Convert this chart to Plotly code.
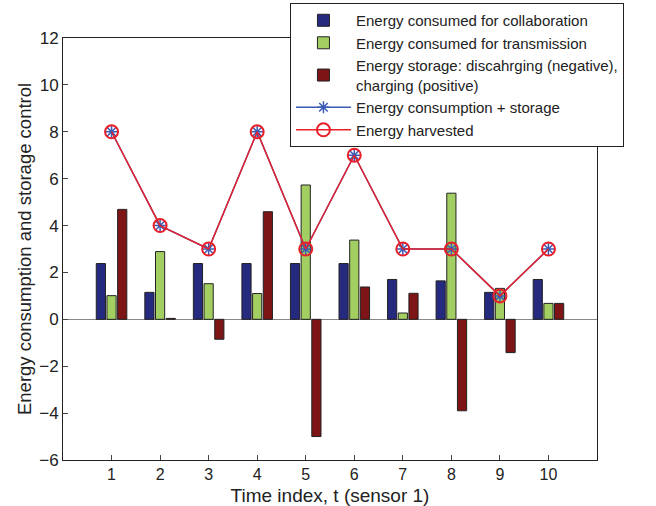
import plotly.graph_objects as go

t = [1, 2, 3, 4, 5, 6, 7, 8, 9, 10]
collab = [2.38, 1.15, 2.38, 2.38, 2.38, 2.38, 1.70, 1.64, 1.15, 1.70]
transm = [1.01, 2.89, 1.52, 1.10, 5.73, 3.38, 0.27, 5.38, 1.32, 0.68]
storage = [4.69, 0.04, -0.85, 4.59, -5.00, 1.38, 1.11, -3.90, -1.42, 0.68]
cons_plus_storage = [8, 4, 3, 8, 3, 7, 3, 3, 1, 3]
harvested = [8, 4, 3, 8, 3, 7, 3, 3, 1, 3]

fig = go.Figure()
bar_line = dict(color="#222222", width=1)
fig.add_trace(go.Bar(x=t, y=collab, name="Energy consumed for collaboration",
                     marker=dict(color="#262a7e", line=bar_line)))
fig.add_trace(go.Bar(x=t, y=transm, name="Energy consumed for transmission",
                     marker=dict(color="#a3cf62", line=bar_line)))
fig.add_trace(go.Bar(x=t, y=storage, name="Energy storage: discahrging (negative),<br>charging (positive)",
                     marker=dict(color="#7d1416", line=bar_line)))
fig.add_trace(go.Scatter(x=t, y=cons_plus_storage, name="Energy consumption + storage",
                         mode="lines+markers",
                         line=dict(color="#3a5bb5", width=1.5),
                         marker=dict(symbol="asterisk-open", size=10, color="#3a5bb5",
                                     line=dict(color="#3a5bb5", width=1.5))))
fig.add_trace(go.Scatter(x=t, y=harvested, name="Energy harvested",
                         mode="lines+markers",
                         line=dict(color="#e8202a", width=1.5),
                         marker=dict(symbol="circle-open", size=13, color="#e8202a",
                                     line=dict(color="#e8202a", width=2))))

fig.update_layout(
    width=656, height=506,
    margin=dict(l=63, r=59, t=38, b=46, autoexpand=False),
    paper_bgcolor="white", plot_bgcolor="white",
    font=dict(family="Liberation Sans, Arial, sans-serif", color="#222222", size=15),
    barmode="group", bargap=0.34, bargroupgap=0.14,
    showlegend=True,
    legend=dict(xref="container", yref="container", x=0.442, y=0.994,
                xanchor="left", yanchor="top",
                bgcolor="white", bordercolor="#222222", borderwidth=1,
                font=dict(size=15), tracegroupgap=0, itemwidth=55),
    xaxis=dict(range=[0, 11], tickvals=t, ticks="inside", ticklen=5,
               showline=True, mirror=True, linecolor="#222222", linewidth=1,
               showgrid=False, zeroline=False,
               title=dict(text="Time index, t (sensor 1)", font=dict(size=19)),
               tickfont=dict(size=16)),
    yaxis=dict(range=[-6, 12], dtick=2, ticks="inside", ticklen=5,
               showline=True, mirror=True, linecolor="#222222", linewidth=1,
               showgrid=False, zeroline=True, zerolinecolor="#888888", zerolinewidth=1,
               tickfont=dict(size=17)),
    annotations=[dict(text="Energy consumption and storage control", xref="paper", yref="paper",
                      x=-0.073, y=0.5, textangle=-90, showarrow=False,
                      xanchor="center", yanchor="middle", font=dict(size=18.5))],
)

fig.write_html("out.html")
